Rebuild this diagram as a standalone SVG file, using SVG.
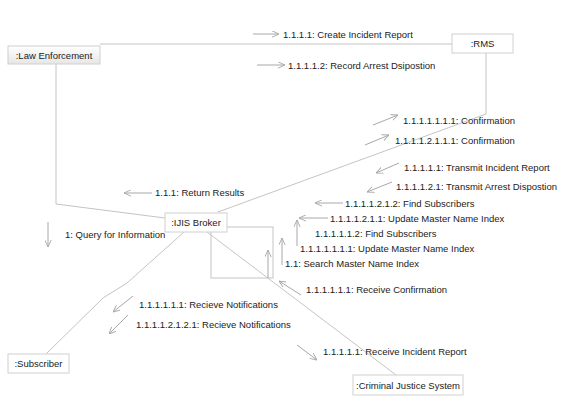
<svg xmlns="http://www.w3.org/2000/svg" width="572" height="401" viewBox="0 0 572 401">
<style>
.bg{fill:#ffffff}
.lnk{fill:none;stroke:#c4c4c4;stroke-width:1}
.box{fill:#ffffff;stroke:#d0d0d0;stroke-width:1}
.msg{fill:none;stroke:#a8a8a8;stroke-width:1;marker-end:url(#ah)}
text{font-family:"Liberation Sans",Arial,sans-serif;font-size:9.5px;fill:#222222}
.nt{text-anchor:middle}
</style>
<defs>
<marker id="ah" viewBox="0 0 10 10" refX="10" refY="5" markerWidth="7" markerHeight="7" markerUnits="userSpaceOnUse" orient="auto">
<path d="M0,0.5 L10,5 L0,9.5" fill="none" stroke="#a8a8a8" stroke-width="1.3"/>
</marker>
<linearGradient id="lg" x1="0" y1="0" x2="0" y2="1">
<stop offset="0" stop-color="#ffffff"/>
<stop offset="1" stop-color="#e6e6e6"/>
</linearGradient>
</defs>
<rect class="bg" x="0" y="0" width="572" height="401"/>
<g id="connectors">
<polyline class="lnk" points="100,44 452,44"/>
<polyline class="lnk" points="56,64 56,204 165,218"/>
<polyline class="lnk" points="486,53 486,114 218,212"/>
<polyline class="lnk" points="184,232 127,283 103,298 46,354"/>
<polyline class="lnk" points="207,232 396,375"/>
<rect class="lnk" x="211" y="227" width="62" height="51"/>
</g>
<g id="messages">
<line class="msg" x1="253" y1="34" x2="279" y2="34"/>
<text x="283" y="37.5">1.1.1.1: Create Incident Report</text>
<line class="msg" x1="257" y1="65" x2="285" y2="65"/>
<text x="288" y="68.5">1.1.1.1.2: Record Arrest Dsipostion</text>
<line class="msg" x1="373" y1="125" x2="398" y2="115"/>
<text x="403" y="123.5">1.1.1.1.1.1.1: Confirmation</text>
<line class="msg" x1="365" y1="145" x2="389" y2="135"/>
<text x="395" y="143.5">1.1.1.1.2.1.1.1: Confirmation</text>
<line class="msg" x1="399" y1="163" x2="376" y2="173"/>
<text x="404" y="170.5">1.1.1.1.1: Transmit Incident Report</text>
<line class="msg" x1="392" y1="182" x2="367" y2="192"/>
<text x="396" y="189.5">1.1.1.1.2.1: Transmit Arrest Dispostion</text>
<line class="msg" x1="343" y1="203" x2="315" y2="203"/>
<text x="345" y="206.5">1.1.1.1.2.1.2: Find Subscribers</text>
<line class="msg" x1="328" y1="218" x2="299" y2="218"/>
<text x="330" y="222">1.1.1.1.2.1.1: Update Master Name Index</text>
<line class="msg" x1="297" y1="246" x2="297" y2="220"/>
<text x="315" y="237">1.1.1.1.1.2: Find Subscribers</text>
<line class="msg" x1="282" y1="265" x2="282" y2="238"/>
<text x="300" y="251.5">1.1.1.1.1.1.1: Update Master Name Index</text>
<line class="msg" x1="268" y1="278" x2="268" y2="250"/>
<text x="285" y="266.5">1.1: Search Master Name Index</text>
<line class="msg" x1="301" y1="295" x2="279" y2="281"/>
<text x="306" y="292.5">1.1.1.1.1.1: Receive Confirmation</text>
<line class="msg" x1="297" y1="345" x2="317" y2="360"/>
<text x="323" y="355">1.1.1.1.1: Receive Incident Report</text>
<line class="msg" x1="133" y1="296" x2="113" y2="312"/>
<text x="139" y="307.5">1.1.1.1.1.1: Recieve Notifications</text>
<line class="msg" x1="128" y1="315" x2="109" y2="334"/>
<text x="136" y="327.5">1.1.1.1.2.1.2.1: Recieve Notifications</text>
<line class="msg" x1="152" y1="193" x2="124" y2="193"/>
<text x="155" y="196">1.1.1: Return Results</text>
<line class="msg" x1="48" y1="222" x2="48" y2="247"/>
<text x="65" y="237.5">1: Query for Information</text>
</g>
<g id="law-enforcement">
<rect x="8" y="46" width="92" height="18" fill="url(#lg)" stroke="#d0d0d0"/>
<text class="nt" x="54" y="58.5">:Law Enforcement</text>
</g>
<g id="rms">
<rect class="box" x="452" y="34" width="61" height="19"/>
<text class="nt" x="482.5" y="47">:RMS</text>
</g>
<g id="ijis-broker">
<rect class="box" x="165" y="213" width="62" height="19"/>
<text class="nt" x="196" y="226">:IJIS Broker</text>
</g>
<g id="subscriber">
<rect class="box" x="8" y="354" width="61" height="19"/>
<text class="nt" x="38.5" y="367">:Subscriber</text>
</g>
<g id="criminal-justice-system">
<rect class="box" x="353" y="375" width="110" height="20"/>
<text class="nt" x="408" y="388.5">:Criminal Justice System</text>
</g>
</svg>
